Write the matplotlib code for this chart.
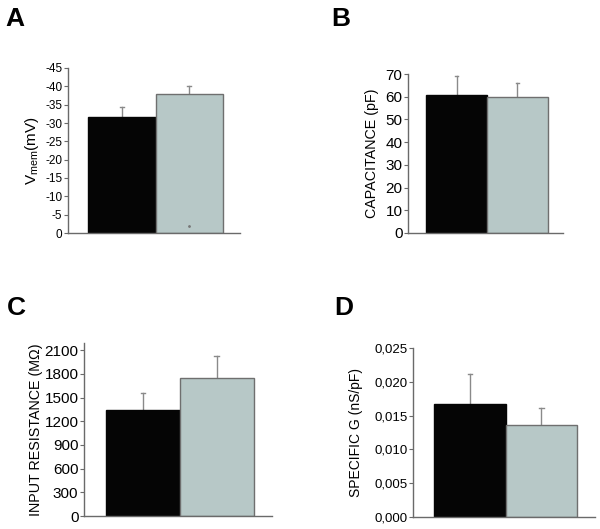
import numpy as np
import matplotlib
matplotlib.use("Agg")
from matplotlib import pyplot as plt

plt.rcParams['font.family'] = ['Liberation Sans', 'DejaVu Sans']
plt.rcParams['axes.unicode_minus'] = False
plt.rcParams['mathtext.fontset'] = 'custom'
plt.rcParams['mathtext.rm'] = 'Liberation Sans'

# two groups per panel: black = control, grey = treated
colors = ['#050505', '#b7c8c7']

vmem = [-31.6, -37.9]
vmem_err = [-2.8, -2.2]

cap = [60.9, 60.0]
cap_err = [8.2, 5.9]

rin = [1348, 1741]
rin_err = [203, 283]

spec_g = [0.01673, 0.01361]
spec_g_err = [0.00441, 0.00257]

fig = plt.figure(figsize=(6.0, 5.29), dpi=100)
W, H = 600, 529


def make_ax(x0, x1, ytop, ybot):
    # pixel box -> figure fraction
    return fig.add_axes([x0 / W, 1 - ybot / H, (x1 - x0) / W, (ybot - ytop) / H])


def draw(ax, vals, errs, xend):
    for i, (v, e) in enumerate(zip(vals, errs)):
        ax.bar(i, v, width=1.0, align='edge', color=colors[i],
               edgecolor='#6f6f6f' if i == 1 else colors[i], linewidth=1.0, zorder=2)
        ax.plot([i + 0.5, i + 0.5], [v, v + e], color='#8a8a8a', lw=1.0, zorder=1)
        ax.plot([i + 0.47, i + 0.53], [v + e, v + e], color='#8a8a8a', lw=1.0, zorder=1)
    ax.set_xlim(-0.3, xend)
    ax.set_xticks([])
    for s in ['top', 'right']:
        ax.spines[s].set_visible(False)
    for s in ['left', 'bottom']:
        ax.spines[s].set_color('#6a6a6a')
        ax.spines[s].set_linewidth(1.0)
    ax.tick_params(axis='y', color='#6a6a6a', length=3, width=0.8, pad=1)


# A
axA = make_ax(68, 240, 68, 233)
draw(axA, vmem, vmem_err, 2.25)
axA.set_ylim(0, -45)
axA.set_yticks(np.arange(0, -46, -5))
axA.tick_params(axis='y', labelsize=8.5)
axA.set_ylabel(r'V$_{\mathrm{mem}}$(mV)', fontsize=11, labelpad=3)
axA.plot([1.5], [-1.8], marker='.', color='#777777', ms=2)

# B
axB = make_ax(408, 563, 74, 233)
draw(axB, cap, cap_err, 2.25)
axB.set_ylim(0, 70)
axB.set_yticks(np.arange(0, 71, 10))
axB.tick_params(axis='y', labelsize=11)
axB.set_ylabel('CAPACITANCE (pF)', fontsize=10.3, labelpad=5)

# C
axC = make_ax(84, 272, 343, 516)
draw(axC, rin, rin_err, 2.25)
axC.set_ylim(0, 2190)
axC.set_yticks(np.arange(0, 2101, 300))
axC.tick_params(axis='y', labelsize=11)
axC.set_ylabel('INPUT RESISTANCE (M\u03a9)', fontsize=10.3, labelpad=1)

# D
axD = make_ax(413, 595, 348, 517)
draw(axD, spec_g, spec_g_err, 2.25)
axD.set_ylim(0, 0.025)
axD.set_yticks(np.arange(0, 0.0251, 0.005))
axD.set_yticklabels([f'{t:.3f}'.replace('.', ',') for t in np.arange(0, 0.0251, 0.005)])
axD.tick_params(axis='y', labelsize=9.5)
axD.set_ylabel('SPECIFIC G (nS/pF)', fontsize=10, labelpad=8)

for lab, x, y in [('A', 5, 7), ('B', 331, 7), ('C', 7, 296), ('D', 334, 296)]:
    fig.text(x / W, 1 - y / H, lab, fontsize=19, fontweight='bold', va='top', ha='left')

fig.savefig('out.png', dpi=100)
